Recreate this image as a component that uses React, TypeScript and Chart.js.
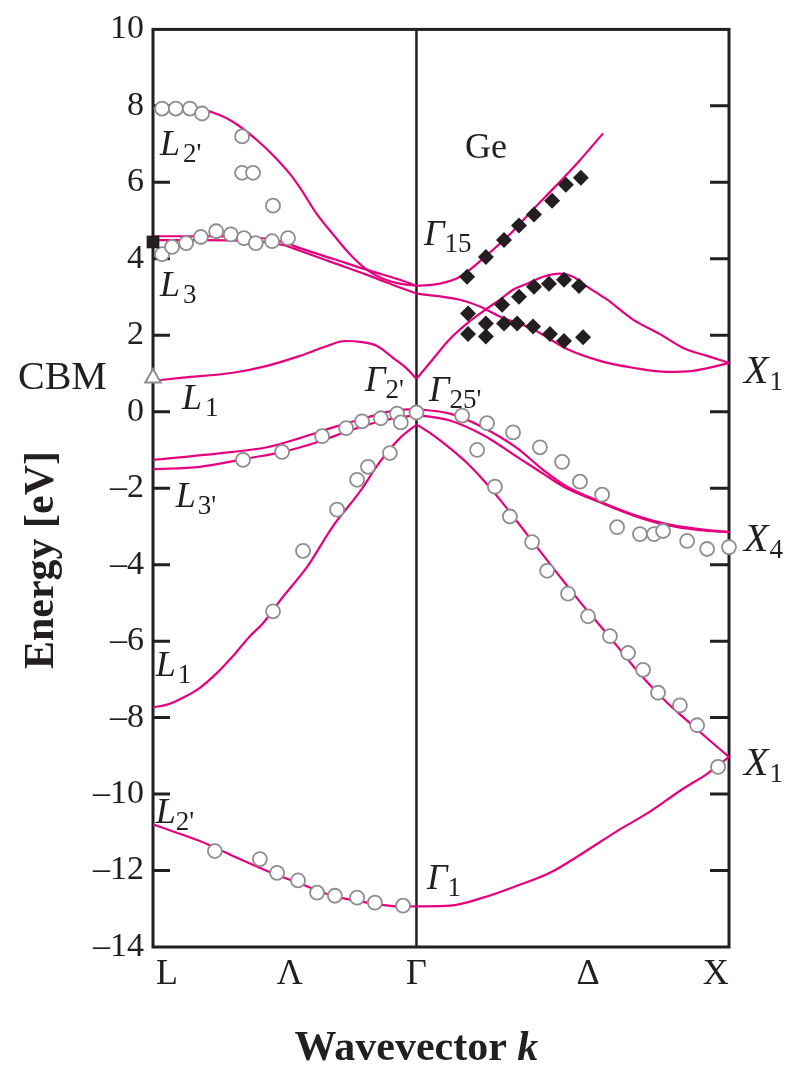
import React, { useEffect, useRef } from 'react';
import { Chart, registerables } from 'chart.js';

Chart.register(...registerables);

const INK = '#231f20';
const BAND = '#e6007e';
const OPEN = '#8e8e8e';
const SERIF = '"Liberation Serif", "DejaVu Serif", serif';

// Energy axis (eV)
const E_MIN = -14;
const E_MAX = 10;
const E_STEP = 2;

// Wavevector axis: Γ at 0, X at 1, L on the left
const K_L = -0.843;
const K_X = 1;
const kTickValues = [-0.798, -0.405, 0, 0.549, 0.958];
const kTickLabels = ['L', 'Λ', 'Γ', 'Δ', 'X'];

// ---- Calculated bands, L → Γ ----
const kL2pTop = [-0.843, -0.693, -0.619, -0.565, -0.51, -0.459, -0.405, -0.373, -0.318, -0.267, -0.213, -0.158, -0.107, -0.053, 0];
const eL2pTop = [7.93, 7.91, 7.72, 7.46, 7.1, 6.71, 6.22, 5.86, 5.16, 4.64, 4.12, 3.71, 3.48, 3.35, 3.29];

const kL3a = [-0.843, -0.693, -0.533, -0.427, -0.373, -0.267, -0.158, -0.053, 0];
const eL3a = [4.59, 4.59, 4.57, 4.44, 4.28, 4.0, 3.71, 3.45, 3.29];

const kL3b = [-0.843, -0.693, -0.533, -0.427, -0.373, -0.267, -0.158, -0.053, 0];
const eL3b = [4.49, 4.49, 4.47, 4.36, 4.21, 3.9, 3.58, 3.25, 3.09];

const kL1c = [-0.843, -0.747, -0.587, -0.478, -0.373, -0.286, -0.229, -0.174, -0.126, -0.075, -0.03, 0];
const eL1c = [0.81, 0.89, 1.02, 1.2, 1.46, 1.72, 1.85, 1.82, 1.72, 1.41, 1.12, 0.86];

const kL3pA = [-0.843, -0.587, -0.478, -0.373, -0.267, -0.158, -0.075, 0];
const eL3pA = [-1.26, -1.05, -0.93, -0.69, -0.41, -0.15, 0.03, 0.07];

const kL3pB = [-0.843, -0.693, -0.533, -0.427, -0.318, -0.213, -0.107, 0];
const eL3pB = [-1.5, -1.44, -1.21, -1.05, -0.8, -0.49, -0.23, -0.08];

const kL1v = [-0.843, -0.798, -0.747, -0.693, -0.638, -0.587, -0.533, -0.491, -0.427, -0.35, -0.267, -0.181, -0.117, -0.053, 0];
const eL1v = [-7.73, -7.66, -7.48, -7.22, -6.83, -6.39, -5.87, -5.53, -4.84, -4.06, -2.99, -2.09, -1.31, -0.69, -0.34];

const kL2pLow = [-0.843, -0.798, -0.693, -0.587, -0.478, -0.373, -0.267, -0.158, -0.053, 0];
const eL2pLow = [-10.79, -10.92, -11.23, -11.62, -12.01, -12.34, -12.66, -12.84, -12.94, -12.94];

// ---- Calculated bands, Γ → X ----
const kG15Up = [0, 0.075, 0.139, 0.226, 0.299, 0.373, 0.45, 0.523, 0.597];
const eG15Up = [3.29, 3.35, 3.53, 4.1, 4.64, 5.29, 5.94, 6.58, 7.28];

const kG15Down = [0, 0.139, 0.203, 0.267, 0.373, 0.482, 0.587, 0.693, 0.802, 0.885, 0.962, 1.0];
const eG15Down = [3.09, 2.93, 2.75, 2.49, 2.16, 1.64, 1.33, 1.15, 1.04, 1.07, 1.2, 1.28];

const kG2p = [0, 0.053, 0.107, 0.162, 0.226, 0.267, 0.309, 0.354, 0.405, 0.459, 0.501, 0.546, 0.61, 0.693, 0.779, 0.853, 0.93, 1.0];
const eG2p = [0.86, 1.38, 1.9, 2.31, 2.7, 2.93, 3.19, 3.35, 3.53, 3.61, 3.53, 3.27, 2.93, 2.41, 2.03, 1.67, 1.46, 1.28];

const kG25A = [0, 0.107, 0.213, 0.322, 0.405, 0.482, 0.587, 0.693, 0.802, 0.906, 1.0];
const eG25A = [0.07, -0.05, -0.41, -0.95, -1.52, -1.96, -2.35, -2.69, -2.94, -3.07, -3.15];

const kG25B = [0, 0.107, 0.213, 0.322, 0.405, 0.482, 0.587, 0.693, 0.802, 0.906, 1.0];
const eG25B = [-0.08, -0.23, -0.61, -1.18, -1.62, -2.01, -2.37, -2.71, -2.97, -3.1, -3.15];

const kD2p = [0, 0.053, 0.107, 0.162, 0.213, 0.267, 0.322, 0.373, 0.427, 0.482, 0.533, 0.587, 0.642, 0.693, 0.747, 0.802, 0.866, 0.93, 1.0];
const eD2p = [-0.33, -0.61, -0.95, -1.34, -1.78, -2.3, -2.87, -3.41, -3.98, -4.55, -5.07, -5.59, -6.13, -6.65, -7.15, -7.61, -8.08, -8.54, -9.03];

const kG1 = [0, 0.107, 0.213, 0.322, 0.427, 0.533, 0.642, 0.747, 0.853, 0.93, 1.0];
const eG1 = [-12.94, -12.92, -12.71, -12.4, -12.06, -11.54, -10.97, -10.46, -9.86, -9.47, -9.03];

// ---- Measured points ----
// photoemission (open circles)
const kOpen = [
  -0.814, -0.77, -0.725, -0.686, -0.558, -0.558, -0.523, -0.459,
  -0.814, -0.782, -0.737, -0.69, -0.641, -0.594, -0.552, -0.514, -0.462, -0.411,
  -0.555, -0.43, -0.302, -0.225, -0.174, -0.114, -0.062, -0.05, 0,
  -0.085, -0.155, -0.19, -0.254, -0.363, -0.459,
  0.146, 0.194, 0.226, 0.309, 0.395, 0.466, 0.523, 0.594, 0.642, 0.715, 0.76, 0.789, 0.866, 0.93, 1.0,
  0.251, 0.299, 0.37, 0.418, 0.485, 0.549, 0.619, 0.677, 0.725, 0.773, 0.843, 0.898, 0.965,
  -0.645, -0.501, -0.446, -0.379, -0.318, -0.261, -0.19, -0.133, -0.043,
];
const eOpen = [
  7.93, 7.93, 7.93, 7.8, 7.2, 6.25, 6.25, 5.39,
  4.12, 4.31, 4.41, 4.57, 4.72, 4.64, 4.54, 4.41, 4.46, 4.54,
  -1.26, -1.05, -0.64, -0.43, -0.25, -0.17, -0.05, -0.28, -0.02,
  -1.08, -1.44, -1.78, -2.56, -3.64, -5.22,
  -0.1, -1.0, -0.3, -0.54, -0.93, -1.31, -1.83, -2.17, -3.02, -3.2, -3.2, -3.12, -3.38, -3.59, -3.54,
  -1.96, -2.74, -3.41, -4.16, -4.76, -5.35, -5.87, -6.31, -6.75, -7.35, -7.68, -8.2, -9.29,
  -11.49, -11.7, -12.06, -12.26, -12.58, -12.66, -12.71, -12.84, -12.92,
];

// inverse photoemission (filled)
const kFilled = [
  0.162, 0.222, 0.28, 0.328, 0.376, 0.434, 0.478, 0.526,
  0.274, 0.328, 0.376, 0.424, 0.472, 0.52,
  0.165, 0.165, 0.222, 0.222, 0.28, 0.322, 0.373, 0.427, 0.472, 0.533,
];
const eFilled = [
  3.53, 4.05, 4.49, 4.87, 5.16, 5.52, 5.94, 6.12,
  2.8, 3.01, 3.27, 3.35, 3.45, 3.29,
  2.57, 2.03, 2.31, 1.97, 2.31, 2.31, 2.23, 2.03, 1.85, 1.95,
];

const kSquare = [K_L];
const eSquare = [4.44];
const kTriangle = [K_L];
const eTriangle = [0.88];

const pts = (k: number[], e: number[]) => k.map((x, i) => ({ x, y: e[i] }));

const bandBranches: [number[], number[]][] = [
  [kL2pTop, eL2pTop], [kL3a, eL3a], [kL3b, eL3b], [kL1c, eL1c],
  [kL3pA, eL3pA], [kL3pB, eL3pB], [kL1v, eL1v], [kL2pLow, eL2pLow],
  [kG15Up, eG15Up], [kG15Down, eG15Down], [kG2p, eG2p], [kG25A, eG25A],
  [kG25B, eG25B], [kD2p, eD2p], [kG1, eG1],
];

type BandLabel = { main: string; sub: string; k: number; e: number; dx: number; size: number };
const symmetryLabels: BandLabel[] = [
  { main: 'L', sub: "2'", k: -0.821, e: 6.71, dx: 3, size: 36 },
  { main: 'L', sub: '3', k: -0.821, e: 3.02, dx: 3, size: 36 },
  { main: 'L', sub: '1', k: -0.75, e: 0.08, dx: 3, size: 36 },
  { main: 'L', sub: "3'", k: -0.77, e: -2.5, dx: 2, size: 36 },
  { main: 'L', sub: '1', k: -0.834, e: -6.9, dx: 2, size: 36 },
  { main: 'L', sub: "2'", k: -0.834, e: -10.76, dx: 0, size: 36 },
  { main: 'Γ', sub: "2'", k: -0.165, e: 0.55, dx: 0, size: 36 },
  { main: 'Γ', sub: "25'", k: 0.04, e: 0.29, dx: 0, size: 36 },
  { main: 'Γ', sub: '15', k: 0.024, e: 4.36, dx: 0, size: 36 },
  { main: 'Γ', sub: '1', k: 0.034, e: -12.47, dx: 0, size: 36 },
  { main: 'X', sub: '1', k: 1.048, e: 0.76, dx: 1, size: 40 },
  { main: 'X', sub: '4', k: 1.048, e: -3.64, dx: 1, size: 40 },
  { main: 'X', sub: '1', k: 1.048, e: -9.5, dx: 1, size: 40 },
];

const framePlugin = {
  id: 'bandFrame',
  beforeDatasetsDraw(chart: any) {
    const { ctx, chartArea: a, scales } = chart;
    const xs = scales.x;
    const ys = scales.y;
    ctx.save();
    ctx.strokeStyle = INK;
    // Γ line
    const gx = xs.getPixelForValue(0);
    ctx.lineWidth = 2.5;
    ctx.beginPath();
    ctx.moveTo(gx, a.top);
    ctx.lineTo(gx, a.bottom);
    ctx.stroke();
    // inward ticks on both energy axes
    ctx.lineWidth = 3;
    for (let v = E_MIN + E_STEP; v < E_MAX; v += E_STEP) {
      const py = ys.getPixelForValue(v);
      ctx.beginPath();
      ctx.moveTo(a.left, py);
      ctx.lineTo(a.left + 17, py);
      ctx.moveTo(a.right - 19, py);
      ctx.lineTo(a.right, py);
      ctx.stroke();
    }
    ctx.strokeRect(a.left, a.top, a.right - a.left, a.bottom - a.top);
    ctx.restore();
  },
};

const textPlugin = {
  id: 'bandText',
  afterDatasetsDraw(chart: any) {
    const { ctx, scales } = chart;
    const xs = scales.x;
    const ys = scales.y;
    ctx.save();
    ctx.fillStyle = INK;
    ctx.textAlign = 'left';
    ctx.textBaseline = 'alphabetic';
    for (const l of symmetryLabels) {
      const px = xs.getPixelForValue(l.k);
      const py = ys.getPixelForValue(l.e);
      ctx.font = `italic ${l.size}px ${SERIF}`;
      ctx.fillText(l.main, px, py);
      const w = ctx.measureText(l.main).width;
      ctx.font = `27px ${SERIF}`;
      ctx.fillText(l.sub, px + w + l.dx, py + 7);
    }
    ctx.font = `36px ${SERIF}`;
    ctx.fillText('Ge', xs.getPixelForValue(0.155), ys.getPixelForValue(6.64));
    ctx.font = `40px ${SERIF}`;
    ctx.fillText('CBM', xs.getPixelForValue(-1.275), ys.getPixelForValue(0.6));

    // axis titles
    ctx.save();
    ctx.translate(42, 560);
    ctx.rotate(-Math.PI / 2);
    ctx.textAlign = 'center';
    ctx.textBaseline = 'middle';
    ctx.font = `bold 42px ${SERIF}`;
    ctx.fillText('Energy [eV]', 0, 0);
    ctx.restore();

    ctx.font = `bold 42px ${SERIF}`;
    const w1 = ctx.measureText('Wavevector ').width;
    ctx.font = `bold italic 42px ${SERIF}`;
    const w2 = ctx.measureText('k').width;
    const start = xs.getPixelForValue(0) - (w1 + w2) / 2;
    ctx.font = `bold 42px ${SERIF}`;
    ctx.fillText('Wavevector ', start, 1060);
    ctx.font = `bold italic 42px ${SERIF}`;
    ctx.fillText('k', start + w1, 1060);
    ctx.restore();
  },
};

export default function App() {
  const ref = useRef<HTMLCanvasElement | null>(null);

  useEffect(() => {
    if (!ref.current) return;
    const markerSets: any[] = [
      {
        data: pts(kSquare, eSquare),
        pointStyle: 'rect',
        pointRadius: 9,
        pointBackgroundColor: INK,
        pointBorderColor: INK,
        pointBorderWidth: 0,
        showLine: false,
        clip: false,
        order: 0,
      },
      {
        data: pts(kTriangle, eTriangle),
        pointStyle: 'triangle',
        pointRadius: 9,
        pointBackgroundColor: '#ffffff',
        pointBorderColor: OPEN,
        pointBorderWidth: 2,
        showLine: false,
        clip: false,
        order: 0,
      },
      {
        data: pts(kFilled, eFilled),
        pointStyle: 'rectRot',
        pointRadius: 8,
        pointBackgroundColor: INK,
        pointBorderColor: INK,
        pointBorderWidth: 0,
        showLine: false,
        clip: false,
        order: 0,
      },
      {
        data: pts(kOpen, eOpen),
        pointStyle: 'circle',
        pointRadius: 7,
        pointBackgroundColor: '#ffffff',
        pointBorderColor: OPEN,
        pointBorderWidth: 1.8,
        showLine: false,
        clip: false,
        order: 0,
      },
    ];
    const lineSets = bandBranches.map(([k, e]) => ({
      data: pts(k, e),
      showLine: true,
      borderColor: BAND,
      borderWidth: 2.2,
      pointRadius: 0,
      cubicInterpolationMode: 'monotone',
      order: 1,
    }));

    const chart = new Chart(ref.current, {
      type: 'scatter',
      data: { datasets: [...markerSets, ...lineSets] },
      options: {
        animation: false,
        responsive: false,
        devicePixelRatio: 1,
        layout: { padding: { top: 20, right: 63, left: 0, bottom: 0 } },
        plugins: { legend: { display: false }, tooltip: { enabled: false } },
        scales: {
          x: {
            type: 'linear',
            min: K_L,
            max: K_X,
            grid: { display: false, drawTicks: false },
            border: { display: false },
            afterBuildTicks: (s: any) => {
              s.ticks = kTickValues.map((v) => ({ value: v }));
            },
            afterFit: (s: any) => {
              s.height = 121;
            },
            ticks: {
              autoSkip: false,
              maxRotation: 0,
              color: INK,
              padding: 6,
              font: { family: SERIF, size: 36 },
              callback: (_v: any, i: number) => kTickLabels[i],
            },
          },
          y: {
            type: 'linear',
            min: E_MIN,
            max: E_MAX,
            grid: { display: false, drawTicks: false },
            border: { display: false },
            afterFit: (s: any) => {
              s.width = 153;
            },
            ticks: {
              stepSize: E_STEP,
              color: INK,
              padding: 9,
              font: { family: SERIF, size: 34 },
              callback: (v: any) => (Number(v) < 0 ? '–' + Math.abs(Number(v)) : String(v)),
            },
          },
        },
      },
      plugins: [framePlugin, textPlugin],
    } as any);
    return () => chart.destroy();
  }, []);

  return (
    <div style={{ position: 'fixed', left: 0, top: 0, width: 792, height: 1068, background: '#ffffff' }}>
      <canvas ref={ref} width={792} height={1068} style={{ display: 'block', width: 792, height: 1068 }} />
    </div>
  );
}
